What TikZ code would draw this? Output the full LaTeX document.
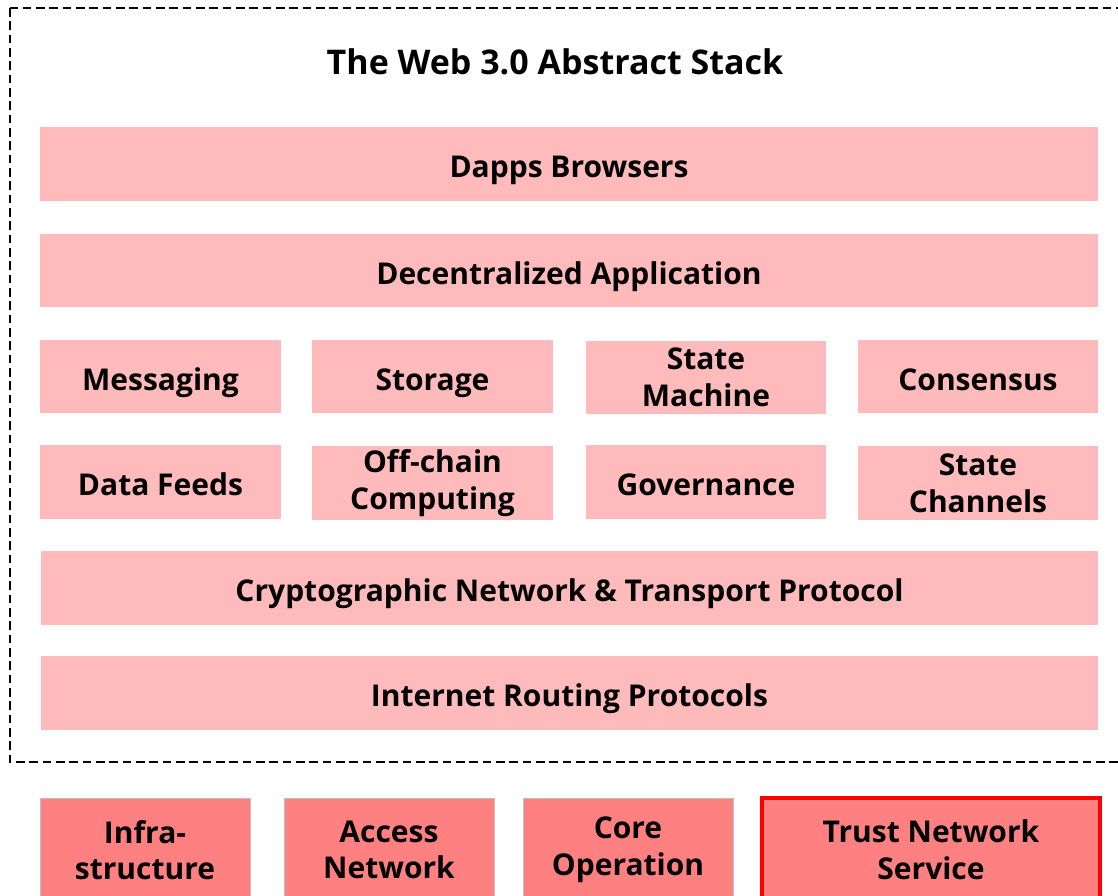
\documentclass[tikz,border=0pt]{standalone}
\usepackage{fontspec}
\newfontfamily\stackfont{Open Sans}
\usetikzlibrary{positioning}
\definecolor{layerpink}{HTML}{FFBBBB}
\definecolor{basered}{HTML}{FF8080}
\definecolor{baseedge}{HTML}{BFBFBF}

\begin{document}
\begin{tikzpicture}[x=0.75pt,y=-0.75pt,
    layer/.style={fill=layerpink,inner sep=0pt,align=center,font=\stackfont\bfseries\fontsize{22.5}{27.5}\selectfont},
    single/.style={text height=24pt,text depth=3.5pt},
    wide/.style={layer,single,minimum width=793pt,minimum height=55pt},
    cell/.style={layer,minimum width=180.5pt,minimum height=55pt},
    base/.style={fill=basered,draw=baseedge,line width=0.6pt,inner sep=0pt,align=center,minimum height=78pt,font=\stackfont\bfseries\fontsize{22.5}{27.5}\selectfont}]
    \clip (0,0) rectangle (1118,896);
    \useasboundingbox (0,0) rectangle (1118,896);
    % frame of the stack
    \draw[dashed,line width=1.1pt,dash pattern=on 6.5pt off 3.5pt] (10,8) rectangle (1140,762);
    \node[font=\stackfont\bfseries\fontsize{25.5}{30}\selectfont] (title) at (555,62) {The Web 3.0 Abstract Stack};

    \node[wide] (browsers) at (569,164) {Dapps Browsers};
    \node[wide] (dapp) at (569,270.5) {Decentralized Application};

    \node[cell,single] (msg) at (160.5,376.5) {Messaging};
    \node[cell,single] (storage) at (432.5,376.5) {Storage};
    \node[cell] (machine) at (706,377.5) {State\\Machine};
    \node[cell,single] (consensus) at (978,376.5) {Consensus};

    \node[cell,single] (feeds) at (160.5,482) {Data Feeds};
    \node[cell] (offchain) at (432.5,483) {Off-chain\\Computing};
    \node[cell,single] (governance) at (706,482) {Governance};
    \node[cell] (channels) at (978,483) {State\\Channels};

    \node[wide] (crypto) at (569.5,588) {Cryptographic Network \& Transport Protocol};
    \node[wide] (routing) at (569.5,693) {Internet Routing Protocols};

    % service blocks below the stack
    \node[base,minimum width=157.5pt] (infra) at (145,850) {Infra-\\structure};
    \node[base,minimum width=157.5pt] (access) at (389,850) {Access\\Network};
    \node[base,minimum width=157.5pt] (core) at (628,850) {Core\\Operation};
    \node[base,minimum width=253.5pt,draw=red,line width=3pt] (trust) at (931,850) {Trust Network\\Service};
\end{tikzpicture}
\end{document}
